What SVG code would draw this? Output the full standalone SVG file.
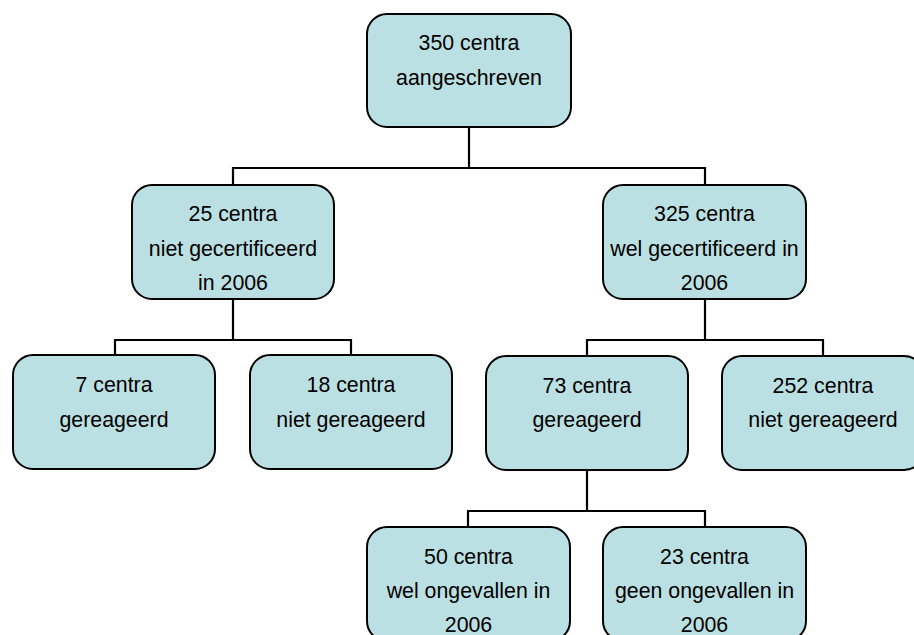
<svg xmlns="http://www.w3.org/2000/svg" width="914" height="635" viewBox="0 0 914 635">
<style>
.box{fill:#BBE0E3;stroke:#000;stroke-width:2}
.lbl{font-family:"Liberation Sans",Arial,sans-serif;font-size:21.33px;fill:#000;text-anchor:middle}
.con{fill:none;stroke:#000;stroke-width:2.2;stroke-linecap:square;stroke-linejoin:miter}
</style>
<rect width="914" height="635" fill="#fff"/>
<g id="connectors">
<path class="con" d="M469,127V168M233,185V168H705V185"/>
<path class="con" d="M233,299V340M115,355V340H351V355"/>
<path class="con" d="M705,299V340M587,355V340H823V355"/>
<path class="con" d="M587,470V511M468,527V511H705V527"/>
</g>
<g id="n350">
<rect class="box" x="367" y="14" width="204" height="113" rx="20"/>
<text class="lbl" x="469" y="50">350 centra</text>
<text class="lbl" x="469" y="85">aangeschreven</text>
</g>
<g id="n25">
<rect class="box" x="132" y="185" width="202" height="114" rx="20"/>
<text class="lbl" x="233" y="221">25 centra</text>
<text class="lbl" x="233" y="256">niet gecertificeerd</text>
<text class="lbl" x="233" y="290">in 2006</text>
</g>
<g id="n325">
<rect class="box" x="603" y="185" width="203" height="114" rx="20"/>
<text class="lbl" x="704.5" y="221">325 centra</text>
<text class="lbl" x="704.5" y="256">wel gecertificeerd in</text>
<text class="lbl" x="704.5" y="290">2006</text>
</g>
<g id="n7">
<rect class="box" x="13" y="355" width="202" height="114" rx="20"/>
<text class="lbl" x="114" y="392">7 centra</text>
<text class="lbl" x="114" y="427">gereageerd</text>
</g>
<g id="n18">
<rect class="box" x="250" y="355" width="202" height="114" rx="20"/>
<text class="lbl" x="351" y="392">18 centra</text>
<text class="lbl" x="351" y="427">niet gereageerd</text>
</g>
<g id="n73">
<rect class="box" x="486" y="356" width="202" height="114" rx="20"/>
<text class="lbl" x="587" y="393">73 centra</text>
<text class="lbl" x="587" y="427">gereageerd</text>
</g>
<g id="n252">
<rect class="box" x="722" y="356" width="202" height="114" rx="20"/>
<text class="lbl" x="823" y="393">252 centra</text>
<text class="lbl" x="823" y="427">niet gereageerd</text>
</g>
<g id="n50">
<rect class="box" x="367" y="527" width="203" height="114" rx="20"/>
<text class="lbl" x="468.5" y="564">50 centra</text>
<text class="lbl" x="468.5" y="598">wel ongevallen in</text>
<text class="lbl" x="468.5" y="631.5">2006</text>
</g>
<g id="n23">
<rect class="box" x="603" y="527" width="203" height="114" rx="20"/>
<text class="lbl" x="704.5" y="564">23 centra</text>
<text class="lbl" x="704.5" y="598">geen ongevallen in</text>
<text class="lbl" x="704.5" y="631.5">2006</text>
</g>
</svg>
